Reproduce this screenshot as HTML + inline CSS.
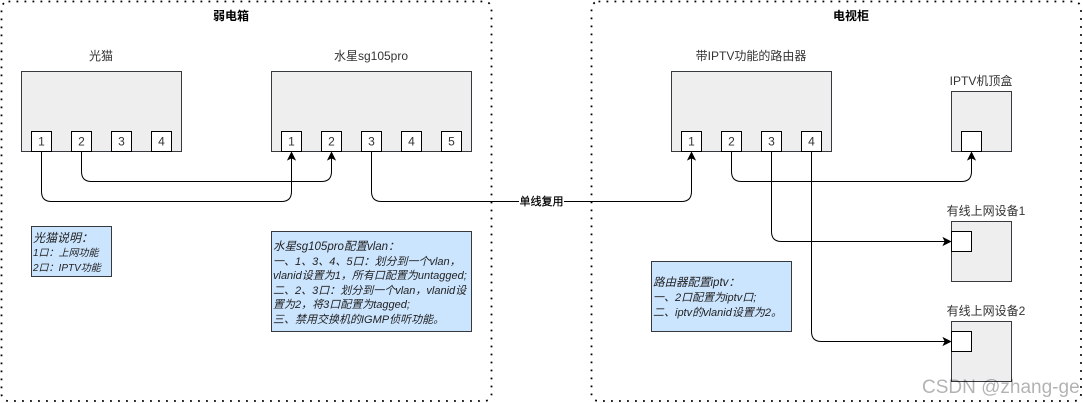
<!DOCTYPE html>
<html><head><meta charset="utf-8">
<style>
html,body{margin:0;padding:0;background:#fff;width:1083px;height:403px;overflow:hidden}
svg{display:block}
text{font-family:"Liberation Sans","Noto Sans CJK SC",sans-serif;font-size:12px;fill:#333}
.b{fill:#000;font-weight:bold}
.c{text-anchor:middle}
.n{font-style:italic;fill:#222}
.box{fill:#eee;stroke:#36393d;stroke-width:1}
.port{fill:#fff;stroke:#000;stroke-width:1}
.note{fill:#cce5ff;stroke:#36393d;stroke-width:1}
.w{fill:none;stroke:#000;stroke-width:1}
.a{fill:#000;stroke:#000;stroke-width:1}
.d{fill:none;stroke:#000;stroke-width:1.8;stroke-dasharray:1.8 6.2}
</style></head><body>
<svg width="1083" height="403" viewBox="0 0 1083 403" xmlns="http://www.w3.org/2000/svg">
<rect class="d" x="1.5" y="1.5" width="490" height="399.5" rx="7"/>
<rect class="d" x="591.5" y="1.5" width="489.5" height="399.5" rx="7"/>
<text class="b c" x="231" y="20">弱电箱</text>
<text class="b c" x="851" y="20">电视柜</text>
<text class="c" x="101" y="60">光猫</text>
<text class="c" x="371" y="60">水星sg105pro</text>
<text class="c" x="751" y="60">带IPTV功能的路由器</text>
<text class="c" x="981" y="85">IPTV机顶盒</text>
<text class="c" x="986" y="215">有线上网设备1</text>
<text class="c" x="986" y="315">有线上网设备2</text>

<rect class="box" x="21.5" y="71.5" width="160" height="80"/>
<rect class="box" x="271.5" y="71.5" width="200" height="80"/>
<rect class="box" x="671.5" y="71.5" width="160" height="80"/>
<rect class="box" x="951.5" y="91.5" width="60" height="60"/>
<rect class="box" x="951.5" y="221.5" width="60" height="60"/>
<rect class="box" x="951.5" y="321.5" width="60" height="60"/>

<g>
<rect class="port" x="31.5" y="131.5" width="20" height="20"/>
<rect class="port" x="71.5" y="131.5" width="20" height="20"/>
<rect class="port" x="111.5" y="131.5" width="20" height="20"/>
<rect class="port" x="151.5" y="131.5" width="20" height="20"/>
<rect class="port" x="281.5" y="131.5" width="20" height="20"/>
<rect class="port" x="321.5" y="131.5" width="20" height="20"/>
<rect class="port" x="361.5" y="131.5" width="20" height="20"/>
<rect class="port" x="401.5" y="131.5" width="20" height="20"/>
<rect class="port" x="441.5" y="131.5" width="20" height="20"/>
<rect class="port" x="681.5" y="131.5" width="20" height="20"/>
<rect class="port" x="721.5" y="131.5" width="20" height="20"/>
<rect class="port" x="761.5" y="131.5" width="20" height="20"/>
<rect class="port" x="801.5" y="131.5" width="20" height="20"/>
<rect class="port" x="961.5" y="131.5" width="20" height="20"/>
<rect class="port" x="951.5" y="231.5" width="20" height="20"/>
<rect class="port" x="951.5" y="331.5" width="20" height="20"/>
</g>
<g class="c">
<text class="c" x="41.5" y="145.5">1</text>
<text class="c" x="81.5" y="145.5">2</text>
<text class="c" x="121.5" y="145.5">3</text>
<text class="c" x="161.5" y="145.5">4</text>
<text class="c" x="291.5" y="145.5">1</text>
<text class="c" x="331.5" y="145.5">2</text>
<text class="c" x="371.5" y="145.5">3</text>
<text class="c" x="411.5" y="145.5">4</text>
<text class="c" x="451.5" y="145.5">5</text>
<text class="c" x="691.5" y="145.5">1</text>
<text class="c" x="731.5" y="145.5">2</text>
<text class="c" x="771.5" y="145.5">3</text>
<text class="c" x="811.5" y="145.5">4</text>
</g>

<path class="w" d="M41.5 151.5V191.5Q41.5 201.5 51.5 201.5H281.5Q291.5 201.5 291.5 191.5V158"/>
<path class="w" d="M81.5 151.5V171.5Q81.5 181.5 91.5 181.5H321.5Q331.5 181.5 331.5 171.5V158"/>
<path class="w" d="M371.5 151.5V191.5Q371.5 201.5 381.5 201.5H681.5Q691.5 201.5 691.5 191.5V158"/>
<path class="w" d="M731.5 151.5V171.5Q731.5 181.5 741.5 181.5H961.5Q971.5 181.5 971.5 171.5V158"/>
<path class="w" d="M771.5 151.5V231.5Q771.5 241.5 781.5 241.5H945"/>
<path class="w" d="M811.5 151.5V331.5Q811.5 341.5 821.5 341.5H945"/>
<path class="a" d="M291.5 152.5L295 159.5L291.5 157.8L288 159.5Z"/>
<path class="a" d="M331.5 152.5L335 159.5L331.5 157.8L328 159.5Z"/>
<path class="a" d="M691.5 152.5L695 159.5L691.5 157.8L688 159.5Z"/>
<path class="a" d="M971.5 152.5L975 159.5L971.5 157.8L968 159.5Z"/>
<path class="a" d="M950.5 241.5L943.5 245L945.2 241.5L943.5 238Z"/>
<path class="a" d="M950.5 341.5L943.5 345L945.2 341.5L943.5 338Z"/>

<rect x="519" y="194" width="45" height="15" fill="#fff"/>
<text class="b c" x="541.5" y="205" style="font-size:11px;font-weight:normal;stroke:#000;stroke-width:.25">单线复用</text>

<rect class="note" x="31.5" y="226.5" width="80" height="50"/>
<text class="n" x="33" y="242">光猫说明：</text>
<text class="n" x="33" y="256" style="font-size:10px">1口：上网功能</text>
<text class="n" x="33" y="271" style="font-size:10px">2口：IPTV功能</text>

<rect class="note" x="271.5" y="231.5" width="200" height="100"/>
<g class="n">
<text class="n" x="273" y="250" style="font-size:11.5px">水星sg105pro配置vlan：</text>
<text class="n" x="273" y="265" style="font-size:11px">一、1、3、4、5口：划分到一个vlan，</text>
<text class="n" x="273" y="279" style="font-size:11px">vlanid设置为1，所有口配置为untagged;</text>
<text class="n" x="273" y="294" style="font-size:11px">二、2、3口：划分到一个vlan，vlanid设</text>
<text class="n" x="273" y="308" style="font-size:11px">置为2，将3口配置为tagged;</text>
<text class="n" x="273" y="323" style="font-size:11px">三、禁用交换机的IGMP侦听功能。</text>
</g>

<rect class="note" x="651.5" y="261.5" width="140" height="70"/>
<text class="n" x="653" y="286" style="font-size:11.5px">路由器配置iptv：</text>
<text class="n" x="653" y="301" style="font-size:11px">一、2口配置为iptv口;</text>
<text class="n" x="653" y="316" style="font-size:11px">二、iptv的vlanid设置为2。</text>

<text x="922" y="393" style="font-size:19px;fill:#000;fill-opacity:.3">CSDN @zhang-ge</text>
</svg>
</body></html>
